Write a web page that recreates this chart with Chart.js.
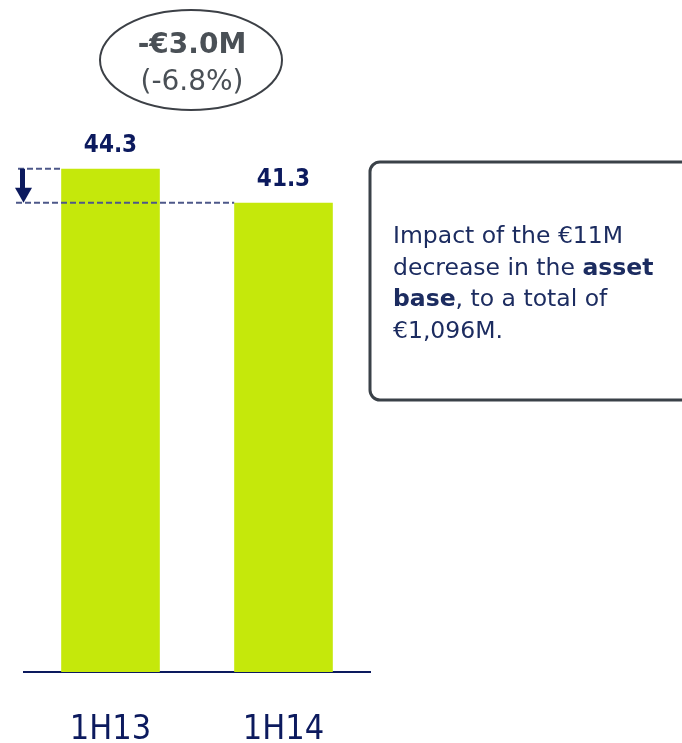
<!DOCTYPE html>
<html lang="en">
<head>
    <meta charset="UTF-8">
    <title>1H13 vs 1H14</title>
    <script src="https://cdn.jsdelivr.net/npm/chart.js"></script>
    <style>
        html, body { margin: 0; padding: 0; background: #fff; }
        .wrap { width: 682px; height: 743px; position: relative; }
    </style>
</head>
<body>
<div class="wrap">
    <canvas id="barChart" width="682" height="743"></canvas>
</div>

<script>
// chart data
const periods = ['1H13', '1H14'];
const values = [44.3, 41.3];
const noteLines = [
    [{ t: 'Impact of the €11M' }],
    [{ t: 'decrease in the ' }, { t: 'asset', b: true }],
    [{ t: 'base', b: true }, { t: ', to a total of' }],
    [{ t: '€1,096M.' }]
];

const NAVY = '#0c1a5e';
const TEXT_BLUE = '#1c2c60';
const GREY = '#4a5056';
const BAR = '#c5e80b';

// draws the labels, the change bubble, the dashed guides and the side note
const extras = {
    id: 'extras',
    afterDatasetsDraw(chart) {
        const ctx = chart.ctx;
        const meta = chart.getDatasetMeta(0);
        const y = chart.scales.y;

        // values above bars
        ctx.save();
        ctx.fillStyle = NAVY;
        ctx.font = 'bold 24px "DejaVu Sans Condensed", "DejaVu Sans"';
        ctx.textAlign = 'center';
        ctx.textBaseline = 'middle';
        meta.data.forEach((bar, i) => {
            ctx.fillText(values[i].toFixed(1), bar.x, bar.y - 23);
        });
        ctx.restore();

        // dashed guide lines from each bar top
        const b0 = meta.data[0], b1 = meta.data[1];
        const y0 = y.getPixelForValue(values[0]);
        const y1 = y.getPixelForValue(values[1]);
        ctx.save();
        ctx.strokeStyle = '#4d5889';
        ctx.lineWidth = 2;
        ctx.setLineDash([6, 3]);
        ctx.beginPath();
        ctx.moveTo(18, y0);
        ctx.lineTo(b0.x - b0.width / 2, y0);
        ctx.moveTo(16, y1);
        ctx.lineTo(b1.x - b1.width / 2, y1);
        ctx.stroke();
        ctx.restore();

        // down arrow
        ctx.save();
        ctx.fillStyle = NAVY;
        ctx.fillRect(20, y0, 5, (y1 - y0) - 14);
        ctx.beginPath();
        ctx.moveTo(15, y1 - 15);
        ctx.lineTo(32, y1 - 15);
        ctx.lineTo(23.5, y1);
        ctx.closePath();
        ctx.fill();
        ctx.restore();

        // change bubble
        const diff = values[1] - values[0];
        const pct = diff / values[0] * 100;
        ctx.save();
        ctx.strokeStyle = '#3c4046';
        ctx.lineWidth = 2;
        ctx.beginPath();
        ctx.ellipse(191, 60, 91, 50, 0, 0, Math.PI * 2);
        ctx.stroke();
        ctx.fillStyle = GREY;
        ctx.textAlign = 'center';
        ctx.textBaseline = 'alphabetic';
        ctx.font = 'bold 28px "DejaVu Sans"';
        ctx.fillText('-€' + Math.abs(diff).toFixed(1) + 'M', 192, 53);
        ctx.font = '28px "DejaVu Sans"';
        ctx.fillText('(' + pct.toFixed(1) + '%)', 192, 90);
        ctx.restore();

        // side note box
        ctx.save();
        ctx.strokeStyle = '#3a4148';
        ctx.lineWidth = 3;
        ctx.beginPath();
        ctx.roundRect(370, 162, 330, 238, 10);
        ctx.stroke();
        ctx.fillStyle = TEXT_BLUE;
        ctx.textBaseline = 'alphabetic';
        noteLines.forEach((line, i) => {
            let x = 393;
            line.forEach(seg => {
                ctx.font = (seg.b ? 'bold ' : '') + '23.5px "DejaVu Sans"';
                ctx.fillText(seg.t, x, 243 + i * 31.7);
                x += ctx.measureText(seg.t).width;
            });
        });
        ctx.restore();
    }
};

const chart = new Chart(document.getElementById('barChart'), {
    type: 'bar',
    data: {
        labels: periods,
        datasets: [{
            data: values,
            backgroundColor: BAR,
            categoryPercentage: 1,
            barPercentage: 0.57
        }]
    },
    options: {
        responsive: false,
        animation: false,
        events: [],
        layout: { padding: { left: 24, right: 312, top: 104, bottom: -45 } },
        plugins: { legend: { display: false }, tooltip: { enabled: false } },
        scales: {
            y: { display: false, min: 0, max: 50 },
            x: {
                grid: { display: false, drawTicks: false },
                border: { color: NAVY, width: 2 },
                ticks: {
                    color: NAVY,
                    padding: 41,
                    font: { family: '"DejaVu Sans Condensed", "DejaVu Sans"', size: 34, lineHeight: 1 }
                }
            }
        }
    },
    plugins: [extras]
});
</script>
</body>
</html>
